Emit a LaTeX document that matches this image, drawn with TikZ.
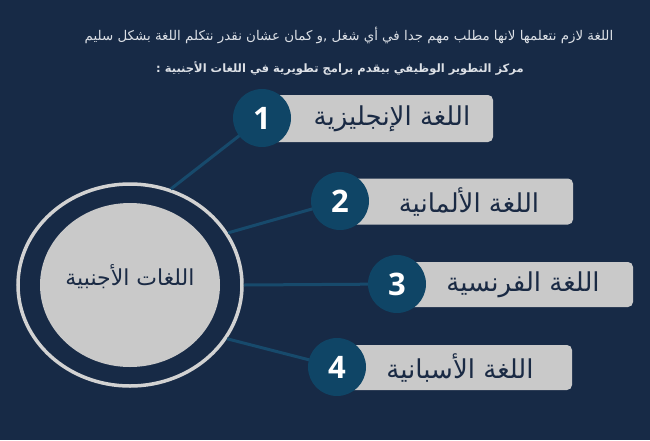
\documentclass[tikz,border=0pt]{standalone}
\usepackage{fontspec}
\setmainfont{Open Sans}
\newfontfamily\arabicfont[Script=Arabic]{DejaVu Sans}
\TeXXeTstate=1
\usetikzlibrary{shapes.geometric}
\definecolor{bgc}{HTML}{172A46}
\definecolor{numc}{HTML}{0F4566}
\definecolor{linkc}{HTML}{174A6C}
\definecolor{boxc}{HTML}{C9C9C9}
\definecolor{ringc}{HTML}{D2D2D2}
\definecolor{txtc}{HTML}{1A2A44}
\definecolor{headc}{HTML}{DCE0E6}
\tikzset{
  langbox/.style={fill=boxc, rounded corners=5pt, inner sep=0pt},
  numcirc/.style={circle, fill=numc, minimum size=58pt, inner sep=0pt, text=white, font=\fontsize{31}{31}\selectfont\bfseries},
  langtxt/.style={text=txtc, inner sep=0pt, font=\arabicfont\fontsize{26}{30}\selectfont},
  link/.style={draw=linkc, line width=3pt},
  headtxt/.style={text=headc, inner sep=0pt, font=\arabicfont\fontsize{13.4}{16}\selectfont},
}
\begin{document}
\begin{tikzpicture}[x=1pt,y=-1pt]
\useasboundingbox (0,0) rectangle (650,440);
\fill[bgc] (0,0) rectangle (650,440);

% header
\node[headtxt] (h1) at (349,35) {\beginR اللغة لازم نتعلمها لانها مطلب مهم جدا في أي شغل ,و كمان عشان نقدر نتكلم اللغة بشكل سليم\endR};
\node[headtxt, font=\arabicfont\bfseries\fontsize{11.5}{14}\selectfont] (h2) at (340,68) {\beginR مركز التطوير الوظيفي بيقدم برامج  تطويرية في اللغات الأجنبية :\endR};

% central ring
\node[ellipse, draw=ringc, line width=3.5pt, fill=bgc, minimum width=224pt, minimum height=202pt, inner sep=0pt] (ring) at (130,285) {};
\node[ellipse, fill=boxc, minimum width=180pt, minimum height=164pt, inner sep=0pt] (core) at (130,285) {};
\node[langtxt, font=\arabicfont\fontsize{22}{26}\selectfont] (ct) at (130,277) {\beginR اللغات الأجنبية\endR};

% number circle centres
\coordinate (c1) at (262,118);
\coordinate (c2) at (340,201);
\coordinate (c3) at (397,284);
\coordinate (c4) at (337,367);

% connectors
\draw[link] (ring.67.6) -- (c1);
\draw[link] (ring.28.4) -- (c2);
\draw[link] (ring.0) -- (c3);
\draw[link] (ring.-29.7) -- (c4);

% boxes
\node[langbox, minimum width=231pt, minimum height=47pt] (b1) at (377.5,118.5) {};
\node[langbox, minimum width=233pt, minimum height=46pt] (b2) at (456.5,201.5) {};
\node[langbox, minimum width=236pt, minimum height=45pt] (b3) at (515,284.5) {};
\node[langbox, minimum width=235pt, minimum height=45pt] (b4) at (454.5,367.5) {};

\node[langtxt] (t1) at (392,119) {\beginR اللغة الإنجليزية\endR};
\node[langtxt] (t2) at (469,202) {\beginR اللغة الألمانية\endR};
\node[langtxt] (t3) at (523,285) {\beginR اللغة الفرنسية\endR};
\node[langtxt] (t4) at (460,368) {\beginR اللغة الأسبانية\endR};

% number circles
\node[numcirc] (n1) at (c1) {1};
\node[numcirc] (n2) at (c2) {2};
\node[numcirc] (n3) at (c3) {3};
\node[numcirc] (n4) at (c4) {4};
\end{tikzpicture}
\end{document}
